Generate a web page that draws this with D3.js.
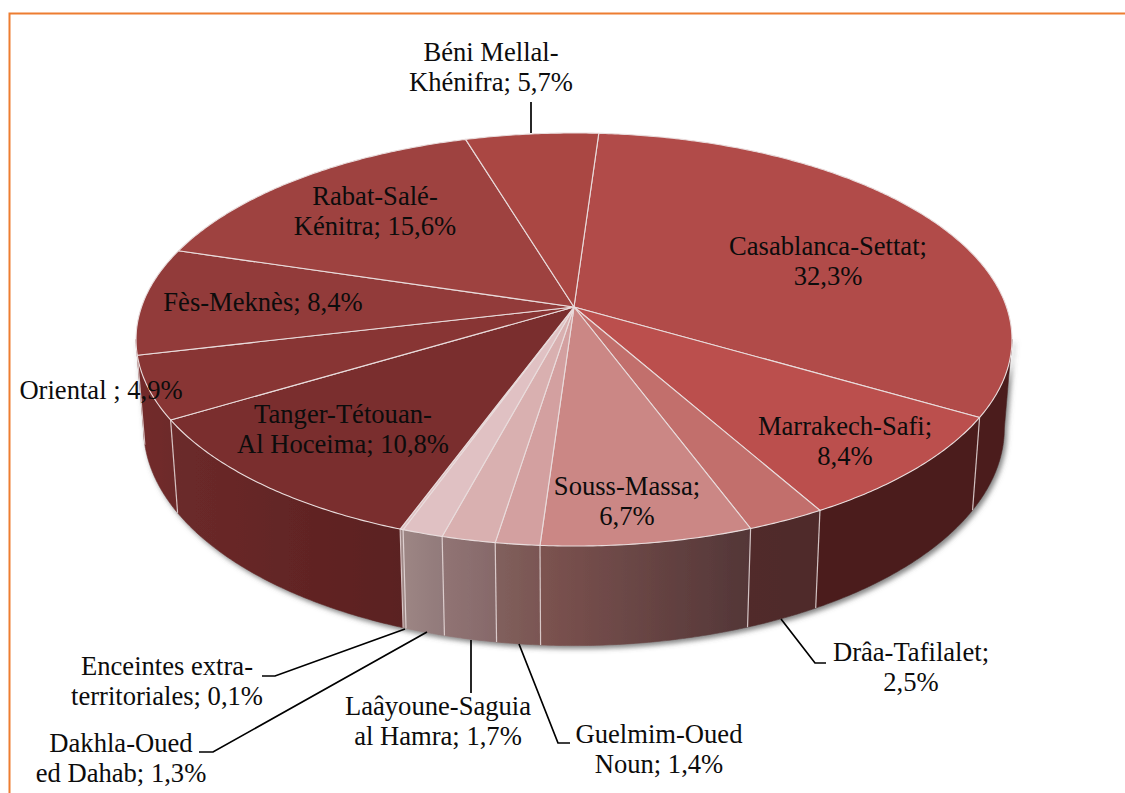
<!DOCTYPE html>
<html><head><meta charset="utf-8">
<style>
html,body{margin:0;padding:0;background:#fff;overflow:hidden}
text{font-family:"Liberation Serif",serif;font-size:26.6px;fill:#0c0c0c}
</style>
<script src="https://cdn.jsdelivr.net/npm/d3@7"></script>
</head><body>
<script>
// ---- data ----
const regions = ["Casablanca-Settat","Marrakech-Safi","Drâa-Tafilalet","Souss-Massa","Guelmim-Oued Noun","Laâyoune-Saguia al Hamra","Dakhla-Oued ed Dahab","Enceintes extra-territoriales","Tanger-Tétouan-Al Hoceima","Oriental","Fès-Meknès","Rabat-Salé-Kénitra","Béni Mellal-Khénifra"];
const shares = [32.3,8.4,2.5,6.7,1.4,1.7,1.3,0.1,10.8,4.9,8.4,15.6,5.7];
const labelLines = [
 ["Casablanca-Settat;","32,3%"],["Marrakech-Safi;","8,4%"],["Drâa-Tafilalet;","2,5%"],["Souss-Massa;","6,7%"],
 ["Guelmim-Oued","Noun; 1,4%"],["Laâyoune-Saguia","al Hamra; 1,7%"],["Dakhla-Oued","ed Dahab; 1,3%"],
 ["Enceintes extra-","territoriales; 0,1%"],["Tanger-Tétouan-","Al Hoceima; 10,8%"],["Oriental ; 4,9%"],
 ["Fès-Meknès; 8,4%"],["Rabat-Salé-","Kénitra; 15,6%"],["Béni Mellal-","Khénifra; 5,7%"]];

// ---- styles and layout ----
const topColors = ["#b14b49","#bb4f4d","#c26f6c","#cb8785","#d3a0a0","#d9b0b0","#e0c1c3","#e0c1c3","#7a2e2e","#883534","#923b3a","#9e4240","#aa4743"];
const wallColors = [["#4b1e1e","#4b1e1e"],["#4b1e1e","#4b1e1e"],["#512c2c","#4f2b2b"],["#7c5350","#533637"],["#81605d","#7a5653"],["#917474","#86696a"],["#9d8684","#91797a"],["#a08a88","#9d8684"],["#6c2a2a","#5a2020"],["#732c2c","#6c2a2a"],["#772e2e","#732c2c"],["#772e2e","#772e2e"],["#772e2e","#772e2e"]];
const labelAnchor = [[828,249],[845,429],[911,655],[627,489],[659,737],[438,709],[121,746],[167,669],[343,417],[101,393],[263,305],[375,199],[491,55]];
const leaders = [
 [[531,133],[531,102]],
 [[781,619],[815,663],[826,663]],
 [[519,644],[558,743],[570,743]],
 [[471,640],[471,693]],
 [[427,632],[213,752],[199,752]],
 [[405,629],[275,676],[262,676]]];
const rimPersp = 0.1574, startDeg = 3.8;
const topX = d3.scaleLinear().domain([-1,1]).range([574-432.5,574+432.5]);
const topY = d3.scaleLinear().domain([-1,1]).range([307-201.4,307+201.4]);
const lowX = d3.scaleLinear().domain([-1,1]).range([574-425,574+425]);
const lowY = d3.scaleLinear().domain([-1,1]).range([394-212,394+212]);
const toRad = Math.PI/180, wallFrom = 99*toRad, wallTo = 261*toRad;
const edge = "#e9dcdc";

const project = (a, sx, sy) => { const X=Math.sin(a), Y=-Math.cos(a), w=1-rimPersp*Y; return [sx(X/w), sy(Y/w)]; };
const topPt = a => project(a, topX, topY), lowPt = a => project(a, lowX, lowY);
const arcAngles = (a0,a1) => { const n=Math.max(2,Math.ceil((a1-a0)/(0.5*toRad))); return d3.range(n+1).map(i=>a0+(a1-a0)*i/n); };
const line = d3.line();

const pie = d3.pie().sort(null).value(d=>d).startAngle(startDeg*toRad).endAngle((startDeg+360)*toRad);
const slices = pie(shares);

const svg = d3.select("body").append("svg").attr("width",1125).attr("height",793).style("display","block");
const defs = svg.append("defs");
const f = defs.append("filter").attr("id","shadow").attr("x","-5%").attr("y","-5%").attr("width","110%").attr("height","115%");
f.append("feDropShadow").attr("dx",2.5).attr("dy",3).attr("stdDeviation",2.5).attr("flood-color","#555").attr("flood-opacity",0.7);

// frame
svg.append("path").attr("d",line([[1130,13.5],[9.5,13.5],[9.5,800]])).attr("fill","none").attr("stroke","#ed7d31").attr("stroke-width",2);

// walls
const walls = svg.append("g").attr("filter","url(#shadow)");
const visible = slices.filter(s=>Math.min(s.endAngle,wallTo)>Math.max(s.startAngle,wallFrom));
visible.forEach(s=>{
  const a0=Math.max(s.startAngle,wallFrom), a1=Math.min(s.endAngle,wallTo), i=s.index;
  const as=arcAngles(a0,a1);
  const xs=as.map(a=>topPt(a)[0]).concat(as.map(a=>lowPt(a)[0]));
  const id="wall"+i;
  const g=defs.append("linearGradient").attr("id",id).attr("gradientUnits","userSpaceOnUse")
    .attr("x1",d3.min(xs)).attr("x2",d3.max(xs)).attr("y1",0).attr("y2",0);
  g.append("stop").attr("offset",0).attr("stop-color",wallColors[i][0]);
  g.append("stop").attr("offset",1).attr("stop-color",wallColors[i][1]);
  walls.append("path").attr("d",line(as.map(topPt).concat(as.slice().reverse().map(lowPt)))+"Z")
    .attr("fill",`url(#${id})`).attr("stroke",`url(#${id})`).attr("stroke-width",0.6);
});
// wall seams
visible.forEach(s=>{
  const a=s.startAngle;
  if(a>wallFrom) svg.append("path").attr("d",line([topPt(a),lowPt(a)])).attr("stroke",edge).attr("stroke-width",1.2).attr("fill","none").attr("opacity",0.85);
});

// top face
svg.append("g").selectAll("path").data(slices).join("path")
  .attr("d",s=>line([[topX(0),topY(0)]].concat(arcAngles(s.startAngle,s.endAngle).map(topPt)))+"Z")
  .attr("fill",s=>topColors[s.index]).attr("stroke",edge).attr("stroke-width",1.1).attr("stroke-linejoin","round");

// leader lines
svg.append("g").selectAll("path").data(leaders).join("path")
  .attr("d",d=>line(d)).attr("fill","none").attr("stroke","#000").attr("stroke-width",1.7);

// labels
const lab = svg.append("g").attr("text-anchor","middle");
labelLines.forEach((ls,i)=>{
  const t=lab.append("text").attr("dominant-baseline","middle");
  ls.forEach((l,k)=>t.append("tspan").attr("x",labelAnchor[i][0]).attr("y",labelAnchor[i][1]+k*29.8).text(l));
});
</script>
</body></html>
